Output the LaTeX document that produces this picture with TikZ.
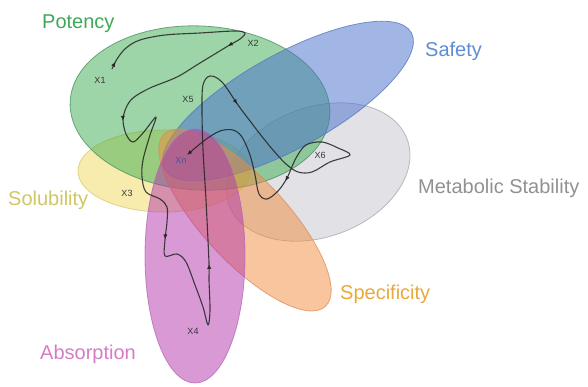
\documentclass[tikz,border=0pt]{standalone}
\usepackage{fontspec}
\setmainfont{Liberation Sans}
\usetikzlibrary{arrows.meta,decorations.markings}

% fills and rims of the property regions
\definecolor{potencyfill}{RGB}{60,172,82}
\definecolor{potencyrim}{RGB}{70,140,90}
\definecolor{safetyfill}{RGB}{70,110,205}
\definecolor{safetyrim}{RGB}{85,115,190}
\definecolor{stabilityfill}{RGB}{196,196,206}
\definecolor{stabilityrim}{RGB}{165,165,172}
\definecolor{solubilityfill}{RGB}{240,218,92}
\definecolor{solubilityrim}{RGB}{215,198,110}
\definecolor{specificityfill}{RGB}{242,140,62}
\definecolor{specificityrim}{RGB}{215,140,90}
\definecolor{absorptionfill}{RGB}{178,52,172}
\definecolor{absorptionrim}{RGB}{180,100,180}
% label colours
\definecolor{potencytext}{RGB}{62,168,88}
\definecolor{safetytext}{RGB}{95,140,210}
\definecolor{stabilitytext}{RGB}{145,145,145}
\definecolor{solubilitytext}{RGB}{208,198,100}
\definecolor{specificitytext}{RGB}{232,168,60}
\definecolor{absorptiontext}{RGB}{212,125,198}
\definecolor{tagtext}{RGB}{55,55,55}
\definecolor{xntext}{RGB}{80,80,150}
\definecolor{pathline}{RGB}{35,35,35}

\tikzset{flowtip/.tip={Latex[length=5pt, width=4.5pt]}}

\begin{document}
\begin{tikzpicture}[
    x=1pt, y=-1pt,
    zone/.style={fill opacity=0.5, draw opacity=0.75, line width=0.8pt},
    title/.style={font=\fontsize{20}{24}\selectfont, anchor=base west, inner sep=0pt},
    tag/.style={font=\fontsize{9}{10}\selectfont, text=tagtext, inner sep=0pt},
    flow/.style={draw=pathline, draw opacity=0.85, line width=1.1pt, line join=round,
        -flowtip,
        postaction={decorate},
        decoration={markings,
            mark=at position 8pt with {\arrow{flowtip}},
            mark=at position 170pt with {\arrow{flowtip}},
            mark=at position 304pt with {\arrow{flowtip}},
            mark=at position 500pt with {\arrow{flowtip}},
            mark=at position 670pt with {\arrow{flowtip}},
            mark=at position 902pt with {\arrow{flowtip}},
            mark=at position 1140pt with {\arrow{flowtip}}}}
]
\useasboundingbox (0,0) rectangle (588,386);

% property regions
\filldraw[zone, fill=stabilityfill, draw=stabilityrim, rotate around={20:(318,172)}]
    (318,172) ellipse [x radius=95pt, y radius=65pt];
\filldraw[zone, fill=solubilityfill, draw=solubilityrim]
    (164,171) ellipse [x radius=86pt, y radius=41pt];
\filldraw[zone, fill=potencyfill, draw=potencyrim, rotate around={-3:(200,108)}]
    (200,108) ellipse [x radius=130pt, y radius=82pt];
\filldraw[zone, fill=safetyfill, draw=safetyrim, rotate around={29:(288,101)}]
    (288,101) ellipse [x radius=141pt, y radius=47pt];
\filldraw[zone, fill=specificityfill, draw=specificityrim, rotate around={-47:(245,220)}]
    (245,220) ellipse [x radius=118pt, y radius=42pt];
\filldraw[zone, fill=absorptionfill, draw=absorptionrim]
    (195,256) ellipse [x radius=50pt, y radius=127pt];

% region names
\node[title, text=potencytext] (potency) at (42,28) {Potency};
\node[title, text=safetytext] (safety) at (425,56) {Safety};
\node[title, text=stabilitytext] (stability) at (418,193) {Metabolic Stability};
\node[title, text=solubilitytext] (solubility) at (8,205) {Solubility};
\node[title, text=specificitytext] (specificity) at (340,299) {Specificity};
\node[title, text=absorptiontext] (absorption) at (40,359) {Absorption};

% optimisation route
\draw[flow] plot[smooth, tension=0.55] coordinates {
    (112,69) (117,59) (126,48) (140,40) (165,35) (200,33) (235,31) (245,33)
    (240,39) (228,46) (200,63) (177,77) (150,88) (133,98) (126,108) (123,120)
    (126,134) (133,142) (143,133) (156,117) (150,135) (143,160) (142,177)
    (146,192) (160,199) (167,207) (167,222) (165,240) (165,256) (177,254)
    (186,262) (195,285) (203,307) (208,325) (210,310) (209,280) (209,263)
    (206,200) (203,150) (202,110) (203,85) (210,76) (222,82) (238,105)
    (250,121) (260,134) (273,150) (286,164) (298,172) (312,172) (330,162)
    (350,155) (338,148) (322,142) (306,145) (296,158) (287,178) (278,191)
    (267,199) (259,194) (255,175) (250,155) (242,137) (233,130) (220,131)
    (205,140) (187,155)};

% compounds along the route
\node[tag] (x1) at (100,80) {X1};
\node[tag] (x2) at (253,43) {X2};
\node[tag] (x5) at (188,99) {X5};
\node[tag, text=xntext] (xn) at (181,160) {Xn};
\node[tag] (x3) at (127,193) {X3};
\node[tag] (x6) at (320,155) {X6};
\node[tag] (x4) at (193,331) {X4};
\end{tikzpicture}
\end{document}
